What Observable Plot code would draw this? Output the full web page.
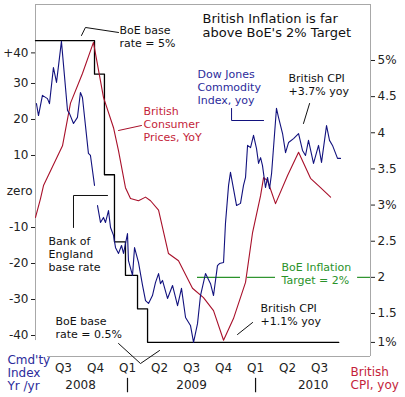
<!DOCTYPE html>
<html><head><meta charset="utf-8">
<script src="https://cdn.jsdelivr.net/npm/d3@7"></script>
<script src="https://cdn.jsdelivr.net/npm/@observablehq/plot@0.6"></script>
<style>html,body{margin:0;padding:0;background:#fff;overflow:hidden}</style>
</head><body><div id="chart"></div>
<script>
// x values are months since 1 Jan 2008 (12 = Jan 2009, 24 = Jan 2010)
// Dow Jones Commodity Index, yoy % (left axis); null marks the gap in the series
const cmdtyMonths = [3.47,3.66,4.03,4.50,4.69,5.06,5.35,5.81,6.38,6.56,6.94,7.31,7.59,7.78,8.34,8.53,8.91,
  9.05,
  9.19,9.47,9.75,9.94,10.22,10.41,10.69,10.88,11.16,11.44,11.63,12.00,12.09,12.47,12.66,13.03,13.41,13.69,13.97,
  14.34,14.62,14.91,15.09,15.28,15.75,16.22,16.69,17.06,17.44,17.90,18.19,18.56,18.84,19.31,19.78,20.06,20.43,
  20.62,21.00,21.18,21.47,21.65,21.93,22.22,22.59,22.87,23.06,23.25,23.53,23.81,24.09,24.28,24.47,24.65,24.93,
  25.12,25.31,25.50,25.96,26.15,26.53,26.81,27.09,27.56,28.03,28.40,28.68,28.96,29.43,29.90,30.18,30.65,30.93,
  31.21,31.68,31.96];
const cmdtyValues = [24.4,21.1,26.7,25.8,24.4,34.4,30.3,41.7,22.5,21.7,18.9,20.6,27.5,26.1,10.6,10.0,1.7,
  null,
  -3.9,-8.6,-7.2,-8.6,-5.3,-10.0,-12.2,-15.6,-17.2,-15.0,-17.2,-11.7,-19.2,-23.3,-15.6,-19.7,-26.1,-30.3,-31.1,
  -28.9,-25.3,-22.8,-25.6,-24.7,-29.7,-26.1,-31.7,-26.9,-35.0,-37.2,-41.9,-36.7,-28.9,-22.8,-25.6,-28.9,-20.6,
  -20.0,-19.7,-8.9,1.7,5.3,0.8,-3.9,-3.3,1.7,3.9,12.8,12.2,15.6,11.9,7.8,9.4,7.2,1.1,
  3.9,0.8,5.0,23.1,20.6,16.1,10.8,13.6,14.7,16.1,11.4,10.0,14.2,7.8,12.8,8.1,18.3,14.2,
  12.8,9.2,9.2];
// British CPI, yoy % (right axis)
const cpiMonths = [3.38,3.85,4.13,5.91,6.66,7.78,8.81,9.75,10.69,11.16,11.81,12.28,13.03,13.69,14.16,14.91,15.84,
  16.78,18.09,19.12,20.06,21.00,21.93,23.06,23.72,24.47,24.75,25.12,25.87,27.00,28.03,29.15,30.09,31.03];
const cpiValues = [2.83,3.09,3.27,3.82,4.41,4.82,5.25,4.49,4.07,3.75,3.24,3.09,3.06,3.11,3.06,2.93,2.33,
  2.23,1.85,1.72,1.54,1.13,1.43,1.93,2.62,3.13,3.38,3.34,3.02,3.41,3.73,3.37,3.24,3.11];
// Bank of England base rate, % (own hidden scale)
const baseMonths = [3.38,8.91,9.84,10.78,11.81,12.94,13.88,31.8];
const baseValues = [5,4.5,3,2,1.5,1,0.5,0.5];
// BoE inflation target
const targetRate = 2;
const targetFrom = [18.56,23.25,33.56];
const targetTo   = [22.59,25.87,34.77];
// axis ticks
const leftTickValues = [38.5,30,20,10,-10,-20,-30,-40];
const leftTickLabels = ["+40","30","20","10","-10","-20","-30","-40"];
const rightTickValues = [1.1,1.5,2,2.5,3,3.5,4,4.5,5];
const rightTickLabels = ["1%","1.5","2","2.5","3%","3.5","4","4.5","5%"];
const quarterMonths = [6,9,12,15,18,21,24,27,30];
const quarterLabels = ["Q3","Q4","Q1","Q2","Q3","Q4","Q1","Q2","Q3"];
const yearMonths = [7.6,18,29.4];
const yearLabels = ["2008","2009","2010"];
const yearBreaks = [12,24];

// scale conversions onto the left (commodity) axis
const r2v = r => 36.39 - 20.08*(5 - r);      // CPI % -> left units
const b2v = b => -41.9 + (b - 0.5)*18.62;    // base rate % -> left units

const xMin = 3.38, xMax = 34.77, yMin = -45.83, yMax = 51.94;

const cmdty = cmdtyMonths.map((m,i)=>({m, v: cmdtyValues[i]}));
const cpi = cpiMonths.map((m,i)=>({m, v: r2v(cpiValues[i])}));
const base = baseMonths.map((m,i)=>({m, v: b2v(baseValues[i])}));
const target = targetFrom.map((a,i)=>({a, b: targetTo[i], v: r2v(targetRate)}));

const leftMap = new Map(leftTickValues.map((v,i)=>[v, leftTickLabels[i]]));
const rightTicks = rightTickValues.map(r2v);
const rightMap = new Map(rightTicks.map((v,i)=>[v, rightTickLabels[i]]));

const FONT = "DejaVu Sans";
const note = (t, m, v, o={}) => Plot.text([t], {x:[m], y:[v], text: d=>d, textAnchor:"start", lineAnchor:"middle",
  fontSize:11, lineHeight:1.18, fill:"#111", ...o});
const leader = (pts, stroke="#111") => Plot.line(pts, {x: d=>d[0], y: d=>d[1], stroke, strokeWidth:1});

const gray = "#a8a8a8";
const chart = Plot.plot({
  width: 405, height: 397,
  marginLeft: 35, marginRight: 35, marginTop: 4, marginBottom: 41,
  style: {fontFamily: FONT, fontSize: "12px", background: "#fff"},
  x: {domain: [xMin, xMax], axis: null},
  y: {domain: [yMin, yMax], axis: null},
  marks: [
    // frame
    Plot.ruleY([yMax], {x1: xMin, x2: xMax, stroke: gray}),
    Plot.ruleY([yMin], {x1: 4.5, x2: xMax, stroke: gray}),
    Plot.ruleX([xMin], {y1: -41.4, y2: yMax, stroke: gray}),
    Plot.ruleX([xMax], {y1: yMin, y2: yMax, stroke: gray}),
    // axes
    Plot.axisY({anchor:"left", ticks: leftTickValues, tickFormat: d=>leftMap.get(d), tickSize:4, tickPadding:3,
      fontSize:12, color:"#222", label:null}),
    Plot.text(["zero"], {x:[xMin], y:[0], text:d=>d, textAnchor:"end", dx:-3, fontSize:12, fill:"#222"}),
    Plot.axisY({anchor:"right", ticks: rightTicks, tickFormat: d=>rightMap.get(d), tickSize:4, tickPadding:3,
      fontSize:12, color:"#222", label:null}),
    Plot.text(quarterMonths, {x: d=>d, y: ()=>-49.2, text: (d,i)=>quarterLabels[i], fontSize:12, fill:"#222"}),
    Plot.text(yearMonths, {x: d=>d, y: ()=>-53.9, text: (d,i)=>yearLabels[i], fontSize:12, fill:"#222"}),
    Plot.ruleX(yearBreaks, {y1: -51.9, y2: -55.9, stroke:"#111", strokeWidth:1.2}),
    // target
    Plot.ruleY(target, {x1:"a", x2:"b", y:"v", stroke:"#2a922a", strokeWidth:1.2}),
    // series
    Plot.line(base, {x:"m", y:"v", curve:"step-after", stroke:"#000", strokeWidth:1.3}),
    Plot.line(cpi, {x:"m", y:"v", stroke:"#a8102a", strokeWidth:1.1}),
    Plot.line(cmdty, {x:"m", y:"v", stroke:"#12127e", strokeWidth:1.1}),
    // annotations
    note("British Inflation is far\nabove BoE's 2% Target", 19.03, 46.1, {fontSize:13, lineHeight:1.08}),
    note("BoE base\nrate = 5%", 11.25, 43.2),
    leader([[7.69,43.33],[8.06,45.56],[11.16,44.17]]),
    note("British\nConsumer\nPrices, YoY", 13.5, 18.75, {fill:"#c41e3a"}),
    leader([[11.16,16.94],[13.31,18.33]], "#a8102a"),
    note("Dow Jones\nCommodity\nIndex, yoy", 18.56, 29.17, {fill:"#2b2b9b"}),
    leader([[21.75,23.06],[21.75,19.72],[24.75,19.72]], "#12127e"),
    note("British CPI\n+3.7% yoy", 27.09, 29.86),
    leader([[29.06,24.44],[28.49,18.89]]),
    note("Bank of\nEngland\nbase rate", 4.6, -17.2),
    leader([[6.94,-10.0],[6.94,-1.11],[10.13,-1.11]]),
    note("BoE base\nrate = 0.5%", 5.25, -37.6),
    leader([[11.16,-42.22],[13.22,-47.78],[15.0,-44.17]]),
    note("BoE Inflation\nTarget = 2%", 26.43, -22.6, {fill:"#2a922a"}),
    note("British CPI\n+1.1% yoy", 24.47, -34.0),
    leader([[22.31,-39.72],[23.72,-36.39]]),
    note("Cmd'ty\nIndex\nYr /yr", 0.75, -50.3, {fill:"#2b2b9b", fontSize:12, lineHeight:1.1}),
    note("British\nCPI, yoy", 32.9, -51.8, {fill:"#c41e3a", fontSize:12, lineHeight:1.1})
  ]
});
document.getElementById("chart").appendChild(chart);
</script>
</body></html>
